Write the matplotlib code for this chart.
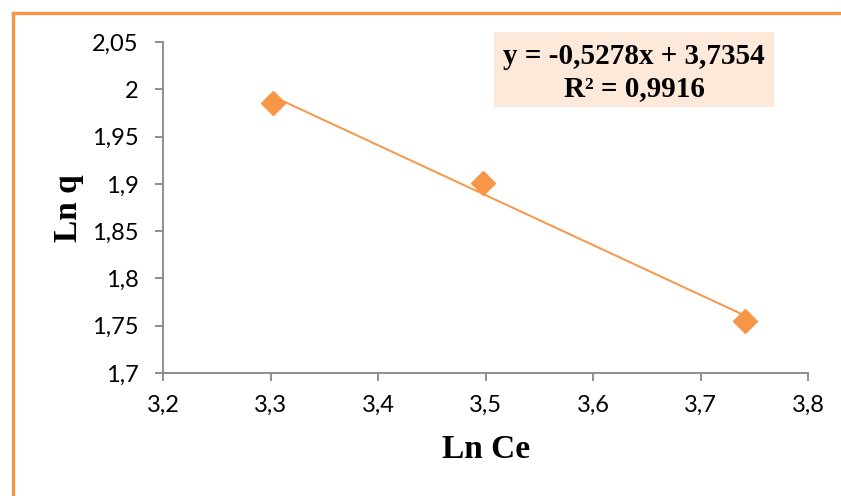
import numpy as np
import matplotlib
matplotlib.use('Agg')
import matplotlib.pyplot as plt
from matplotlib.lines import Line2D
from matplotlib.patches import Rectangle

# data
ln_ce = [3.302, 3.498, 3.741]
ln_q = [1.986, 1.901, 1.755]
slope = -0.5278
intercept = 3.7354
r2 = 0.9916

x_ticks = [3.2, 3.3, 3.4, 3.5, 3.6, 3.7, 3.8]
y_ticks = [1.7, 1.75, 1.8, 1.85, 1.9, 1.95, 2.0, 2.05]

orange = '#F79646'
grey = '#868686'


def comma(v, fmt='%g'):
    return (fmt % v).replace('.', ',')


fig = plt.figure(figsize=(8.41, 4.96), dpi=100)
ax = fig.add_axes([163/841, 1-373/496, (808-163)/841, (373-42)/496])

# trendline over the data range
xs = np.array([min(ln_ce), max(ln_ce)])
ax.plot(xs, slope*xs + intercept, color=orange, lw=1.4, zorder=2)
ax.plot(ln_ce, ln_q, ls='none', marker='D', ms=12.5, color=orange, zorder=3)

ax.set_xlim(3.2, 3.8)
ax.set_ylim(1.7, 2.05)
ax.set_xticks(x_ticks)
ax.set_yticks(y_ticks)
ax.set_xticklabels([comma(v) for v in x_ticks])
ax.set_yticklabels([comma(v) for v in y_ticks])

for s in ['top', 'right']:
    ax.spines[s].set_visible(False)
for s in ['left', 'bottom']:
    ax.spines[s].set_color(grey)
    ax.spines[s].set_linewidth(1.3)
ax.tick_params(colors=grey, length=5.5, width=1.3, labelcolor='black', labelsize=17)
ax.tick_params(axis='x', pad=10)
ax.tick_params(axis='y', pad=12)
for lab in ax.get_xticklabels() + ax.get_yticklabels():
    lab.set_family('Lato')

fig.text(486/841, 1-450/496, 'Ln Ce', family='Liberation Serif', weight='bold',
         fontsize=24, ha='center', va='center')
fig.text(68/841, 1-208/496, 'Ln q', family='Liberation Serif', weight='bold',
         fontsize=24, ha='center', va='center', rotation=90)

# equation box
fig.patches.append(Rectangle((494/841, 1-107/496), 280/841, 75/496,
                             transform=fig.transFigure, facecolor='#FDE9D9',
                             edgecolor='none', zorder=0))
fig.text(634/841, 1-64/496, 'y = %sx + %s' % (comma(slope, '%.4f'), comma(intercept, '%.4f')),
         family='Liberation Serif', weight='bold', fontsize=21, ha='center', va='baseline')
fig.text(634/841, 1-96/496, 'R² = %s' % comma(r2, '%.4f'),
         family='Liberation Serif', weight='bold', fontsize=21, ha='center', va='baseline')

# orange outer frame (left and top edges visible)
fig.add_artist(Line2D([13/841, 13/841], [0, 1-13/496], transform=fig.transFigure, color=orange, lw=2.4))
fig.add_artist(Line2D([13/841, 1], [1-13/496, 1-13/496], transform=fig.transFigure, color=orange, lw=2.4))

fig.savefig('out.png', dpi=100)
